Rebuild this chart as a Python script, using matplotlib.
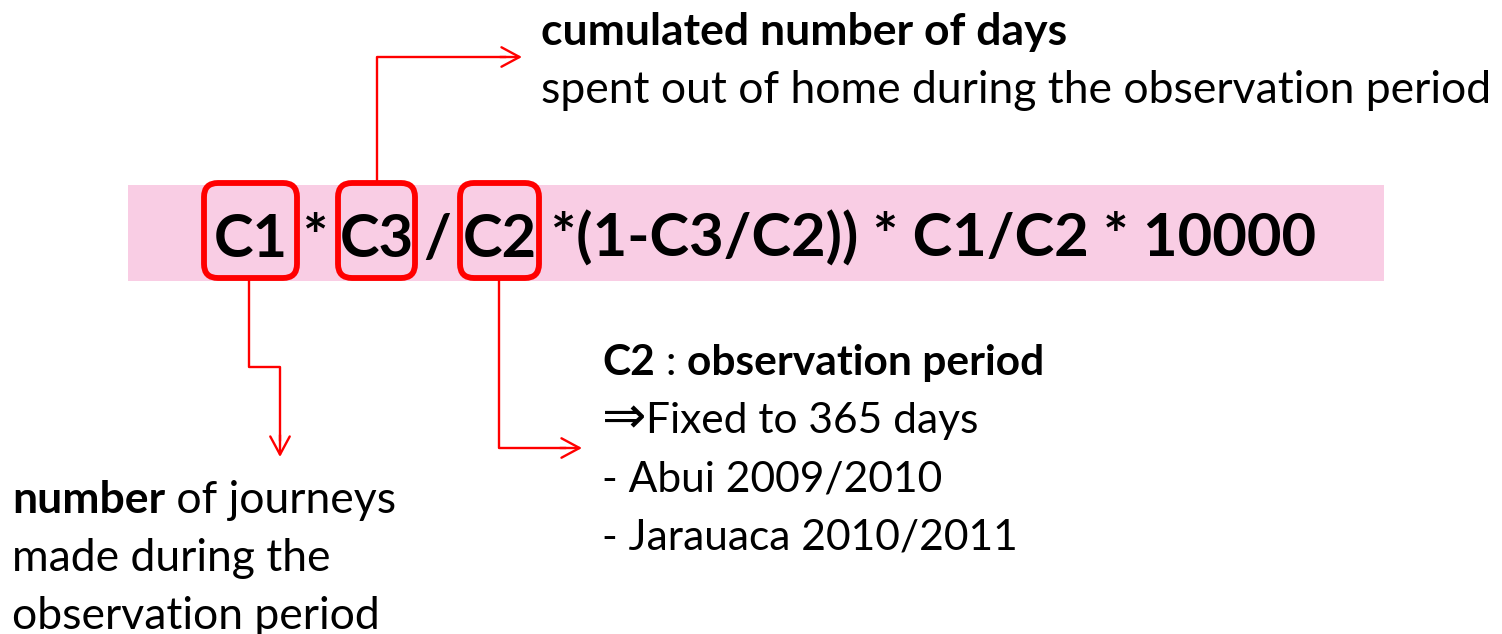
import matplotlib
matplotlib.use("Agg")
import matplotlib.pyplot as plt
from matplotlib.patches import FancyBboxPatch, Rectangle

FONT = "Lato"
plt.rcParams["font.family"] = [FONT, "DejaVu Sans"]

formula_parts = ["C1", "*", "C3", "/", "C2", "*(1-C3/C2)) * C1/C2 * 10000"]
top_lines = [[("cumulated number of days", "bold")],
             [("spent out of home during the observation period", "normal")]]
right_lines = [[("C2", "bold"), (" : ", "normal"), ("observation period", "bold")],
               [("\u21D2", "arrow"), ("Fixed to 365 days", "normal")],
               [("- Abui 2009/2010", "normal")],
               [("- Jarauaca 2010/2011", "normal")]]
left_lines = [[("number", "bold"), (" of journeys", "normal")],
              [("made during the", "normal")],
              [("observation period", "normal")]]

W, H = 1502, 634
fig = plt.figure(figsize=(W / 100, H / 100), dpi=100)
ax = fig.add_axes([0, 0, 1, 1])
ax.set_xlim(0, W)
ax.set_ylim(H, 0)
ax.axis("off")
renderer = fig.canvas.get_renderer()
RED = "#FF0000"


def props(wt, size):
    if wt == "arrow":
        return dict(fontweight="normal", fontfamily=["DejaVu Sans"],
                    fontsize=size * 1.25)
    return dict(fontweight=wt, fontsize=size)


def width_of(s, size, weight):
    t = ax.text(0, 0, s, **props(weight, size))
    w = t.get_window_extent(renderer).width
    t.remove()
    return w


def line_width(pieces, size):
    return sum(width_of(s, size, wt) for s, wt in pieces)


def fit_size(pieces, target):
    s = 30.0
    for _ in range(3):
        s *= target / line_width(pieces, s)
    return s


def draw_line(x, y, pieces, size):
    for s, wt in pieces:
        ax.text(x, y, s, va="baseline", ha="left", color="black",
                **props(wt, size))
        x += width_of(s, size, wt)


# pink band
ax.add_patch(Rectangle((128, 185), 1256, 96, facecolor="#F9CDE4",
                       edgecolor="none", zorder=0))

# formula
fs = fit_size([(formula_parts[5], "bold")], 744) * 1.03
boxes = [(204, 297), (338, 415), (460, 539)]
centers = [(boxes[0][0] + boxes[0][1]) / 2, 315, (boxes[1][0] + boxes[1][1]) / 2,
           437, (boxes[2][0] + boxes[2][1]) / 2]
for s, x in zip(formula_parts[:5], centers):
    ax.text(x, 257, s, fontsize=fs, fontweight="bold", va="baseline",
            ha="center", zorder=3)
ax.text(551, 257, formula_parts[5], fontsize=fs, fontweight="bold",
        va="baseline", ha="left", zorder=3)

# boxes around C1, C3, C2
for x0, x1 in boxes:
    ax.add_patch(FancyBboxPatch((x0, 183), x1 - x0, 95,
                                boxstyle="round,pad=0,rounding_size=14",
                                facecolor="none", edgecolor=RED,
                                linewidth=4.2, zorder=4))

# connectors
akw = dict(arrowstyle="->,head_length=1.3,head_width=0.7", color=RED,
           lw=1.7, shrinkA=0, shrinkB=0)
ax.plot([377, 377, 505], [183, 57, 57], color=RED, lw=1.7)
ax.annotate("", xy=(522, 57), xytext=(500, 57), arrowprops=akw)
ax.plot([249, 249, 280, 280], [278, 367, 367, 440], color=RED, lw=1.7)
ax.annotate("", xy=(280, 457), xytext=(280, 435), arrowprops=akw)
ax.plot([499, 499, 565], [278, 448, 448], color=RED, lw=1.7)
ax.annotate("", xy=(582, 448), xytext=(560, 448), arrowprops=akw)

# texts
fs_top = fit_size(top_lines[1], 951)
draw_line(541, 45, top_lines[0], fs_top)
draw_line(541, 103, top_lines[1], fs_top)

fs_r = fit_size(right_lines[3], 1017 - 602)
for i, ln in enumerate(right_lines):
    draw_line(602, 375 + 58 * i, ln, fs_r)

fs_l = fit_size(left_lines[2], 380 - 12)
for i, ln in enumerate(left_lines):
    draw_line(12, 513 + 58 * i, ln, fs_l)

fig.savefig("out.png", dpi=100, facecolor="white")
